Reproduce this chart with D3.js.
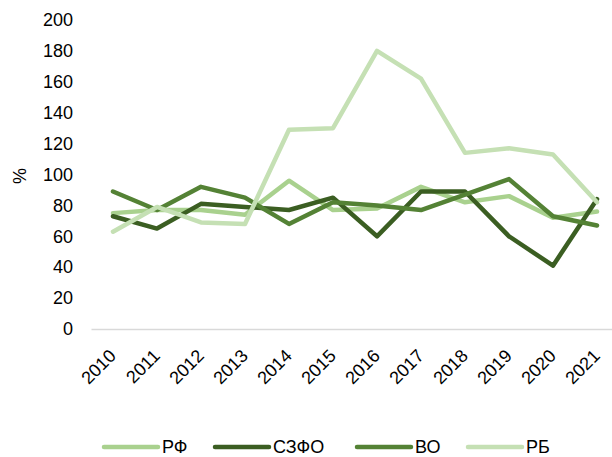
<!DOCTYPE html>
<html lang="ru">
<head>
<meta charset="utf-8">
<title>Chart</title>
<script src="https://cdn.jsdelivr.net/npm/d3@7"></script>
<style>
    body { margin: 0; background: #fff; }
    svg { display: block; font-family: "Liberation Sans", Arial, sans-serif; }
</style>
</head>
<body>
<svg width="612" height="457"></svg>
<script>
    // данные
    var years = ["2010", "2011", "2012", "2013", "2014", "2015", "2016", "2017", "2018", "2019", "2020", "2021"];
    var rf   = [75, 77, 77, 74, 96, 77, 78, 92, 82, 86, 72, 76];
    var szfo = [73, 65, 81, 79, 77, 85, 60, 89, 89, 60, 41, 84];
    var vo   = [89, 77, 92, 85, 68, 82, 80, 77, 87, 97, 73, 67];
    var rb   = [63, 79, 69, 68, 129, 130, 180, 162, 114, 117, 113, 82];
    var yTicks = [0, 20, 40, 60, 80, 100, 120, 140, 160, 180, 200];

    var series = [
        { name: "РФ", values: rf, color: "#a9d18e" },
        { name: "СЗФО", values: szfo, color: "#3b5e22" },
        { name: "ВО", values: vo, color: "#548235" },
        { name: "РБ", values: rb, color: "#c5e0b4" }
    ];

    var svg = d3.select("svg");
    var plotLeft = 91, plotRight = 619, plotTop = 20, plotBottom = 329;

    var x = d3.scaleBand().domain(years).range([plotLeft, plotRight]);
    var y = d3.scaleLinear().domain([0, 200]).range([plotBottom, plotTop]);

    // ось Y
    var yAxis = svg.append("g")
        .attr("transform", "translate(" + plotLeft + ",0)")
        .call(d3.axisLeft(y).tickValues(yTicks).tickSize(0).tickPadding(18));
    yAxis.select(".domain").remove();
    yAxis.selectAll("text").attr("font-size", 18).attr("fill", "#000")
        .attr("font-family", "Liberation Sans, Arial, sans-serif");

    svg.append("text")
        .attr("transform", "translate(26,176) rotate(-90)")
        .attr("text-anchor", "middle")
        .attr("font-size", 18)
        .text("%");

    // ось X
    var xAxis = svg.append("g")
        .attr("transform", "translate(0," + plotBottom + ")")
        .call(d3.axisBottom(x).tickSize(0).tickPadding(0));
    xAxis.select(".domain").attr("stroke", "#d9d9d9").attr("stroke-width", 1.3);
    xAxis.selectAll("text")
        .attr("font-size", 18).attr("fill", "#000")
        .attr("font-family", "Liberation Sans, Arial, sans-serif")
        .attr("text-anchor", "end")
        .attr("dy", null).attr("y", null)
        .attr("transform", "translate(4,28) rotate(-45)");

    // линии
    var line = d3.line()
        .x(function (d, i) { return x(years[i]) + x.bandwidth() / 2; })
        .y(function (d) { return y(d); });

    svg.selectAll("path.series")
        .data(series)
        .enter()
        .append("path")
        .attr("class", "series")
        .attr("d", function (d) { return line(d.values); })
        .attr("fill", "none")
        .attr("stroke", function (d) { return d.color; })
        .attr("stroke-width", 4.5)
        .attr("stroke-linejoin", "round")
        .attr("stroke-linecap", "round");

    // легенда
    var legendX = [104, 215, 357, 468];
    var legend = svg.selectAll("g.legend")
        .data(series)
        .enter()
        .append("g")
        .attr("class", "legend")
        .attr("transform", function (d, i) { return "translate(" + legendX[i] + ",447)"; });
    legend.append("line")
        .attr("x1", 0).attr("x2", 54)
        .attr("stroke", function (d) { return d.color; })
        .attr("stroke-width", 4.5)
        .attr("stroke-linecap", "round");
    legend.append("text")
        .attr("x", 58)
        .attr("dy", "0.35em")
        .attr("font-size", 18)
        .text(function (d) { return d.name; });
</script>
</body>
</html>
